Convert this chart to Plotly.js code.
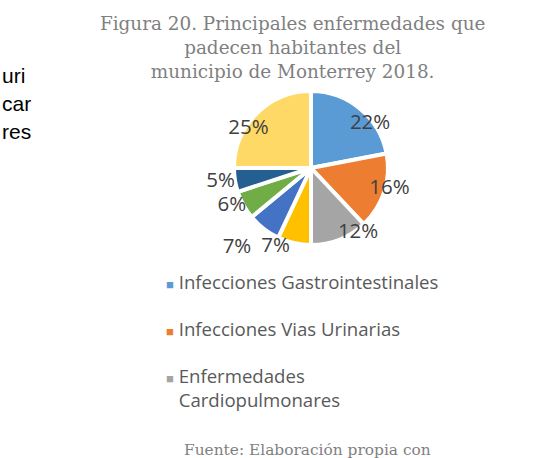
<!DOCTYPE html>
<html><head><meta charset="utf-8">
<script src="https://cdn.plot.ly/plotly-3.0.1.min.js"></script>
<style>html,body{margin:0;padding:0;background:#fff}</style>
</head><body>
<div id="chart" style="width:547px;height:458px"></div>
<script>
var categories = ["Infecciones Gastrointestinales", "Infecciones Vias Urinarias", "Enfermedades Cardiopulmonares",
  "Categoría 4", "Categoría 5", "Categoría 6", "Categoría 7", "Categoría 8"];
var values = [22, 16, 12, 7, 7, 6, 5, 25];
var colors = ["#5B9BD5", "#ED7D31", "#A5A5A5", "#FFC000", "#4472C4", "#70AD47", "#255E91", "#FFD966"];
var legendLabels = ["Infecciones Gastrointestinales", "Infecciones Vias Urinarias", "Enfermedades<br>Cardiopulmonares"];
var titleLines = ["Figura 20. Principales enfermedades que", "padecen habitantes del", "municipio de Monterrey 2018."];
var sourceText = "Fuente: Elaboración propia con";
var backgroundWords = ["uri", "car", "res"];

// layout configuration (pixels): pie centre/radius and the radius at which each label sits
var W = 547, H = 458, CX = 311, CY = 168, R = 77;
var labelRadii = [50, 54, 54, 64, 86, 66, 70, 50];
function dom(r) {
  return {x: [(CX - r) / W, (CX + r) / W], y: [1 - (CY + r) / H, 1 - (CY - r) / H]};
}

var labelFont = {family: "Open Sans", size: 20.5, color: "#404040"};
var traces = [{
  type: "pie",
  labels: categories,
  values: values,
  sort: false,
  direction: "clockwise",
  rotation: 0,
  marker: {colors: colors, line: {color: "#ffffff", width: 4}},
  textinfo: "none",
  domain: dom(R),
  showlegend: false,
  hoverinfo: "label+percent"
}];
// transparent copies of the same pie, each carrying one percentage label near the rim
categories.forEach(function (c, k) {
  traces.push({
    type: "pie",
    labels: categories,
    values: values,
    sort: false,
    direction: "clockwise",
    rotation: 0,
    marker: {colors: values.map(function () { return "rgba(0,0,0,0)"; }), line: {width: 0}},
    textinfo: "percent",
    textposition: categories.map(function (d, j) { return j === k ? "outside" : "none"; }),
    outsidetextfont: labelFont,
    domain: dom(labelRadii[k]),
    showlegend: false,
    hoverinfo: "skip"
  });
});

legendLabels.forEach(function (lab, i) {
  var sq = '<span style="font-size:13px;color:' + colors[i] + '">■</span> ';
  var sqHidden = '<span style="font-size:13px;color:rgba(0,0,0,0)">■</span> ';
  traces.push({
    type: "scatter", mode: "markers", x: [null], y: [null],
    name: sq + lab.split("<br>").join("<br>" + sqHidden), legendgroup: "g" + i,
    marker: {symbol: "square", size: 1, color: "rgba(0,0,0,0)"},
    showlegend: true, hoverinfo: "skip"
  });
});

var annotations = backgroundWords.map(function (w, i) {
  return {text: w, x: 0, y: 1 - (75 + i * 28) / H, xref: "paper", yref: "paper",
    xanchor: "left", yanchor: "middle", showarrow: false,
    font: {family: "Liberation Sans", size: 21, color: "#000000"}};
});
annotations.push({text: sourceText, x: 307 / W, y: 1 - 450 / H, xref: "paper", yref: "paper",
  xanchor: "center", yanchor: "middle", showarrow: false,
  font: {family: "DejaVu Serif", size: 15.4, color: "#7f7f7f"}});

var layout = {
  width: W, height: H,
  margin: {l: 0, r: 0, t: 0, b: 0},
  paper_bgcolor: "#ffffff", plot_bgcolor: "#ffffff",
  title: {text: titleLines.join("<br>"), x: 0.535, xanchor: "center", y: 1 - 30 / H, yanchor: "top",
    font: {family: "DejaVu Serif", size: 18.4, color: "#7f7f7f"}},
  xaxis: {visible: false}, yaxis: {visible: false},
  showlegend: true,
  legend: {x: 126 / W, xanchor: "left", y: 1 - 263 / H, yanchor: "top",
    traceorder: "grouped", tracegroupgap: 20,
    font: {family: "Open Sans", size: 18.6, color: "#595959"}, bgcolor: "rgba(0,0,0,0)"},
  annotations: annotations
};

Plotly.newPlot("chart", traces, layout, {displayModeBar: false, staticPlot: true});
</script>
</body></html>
